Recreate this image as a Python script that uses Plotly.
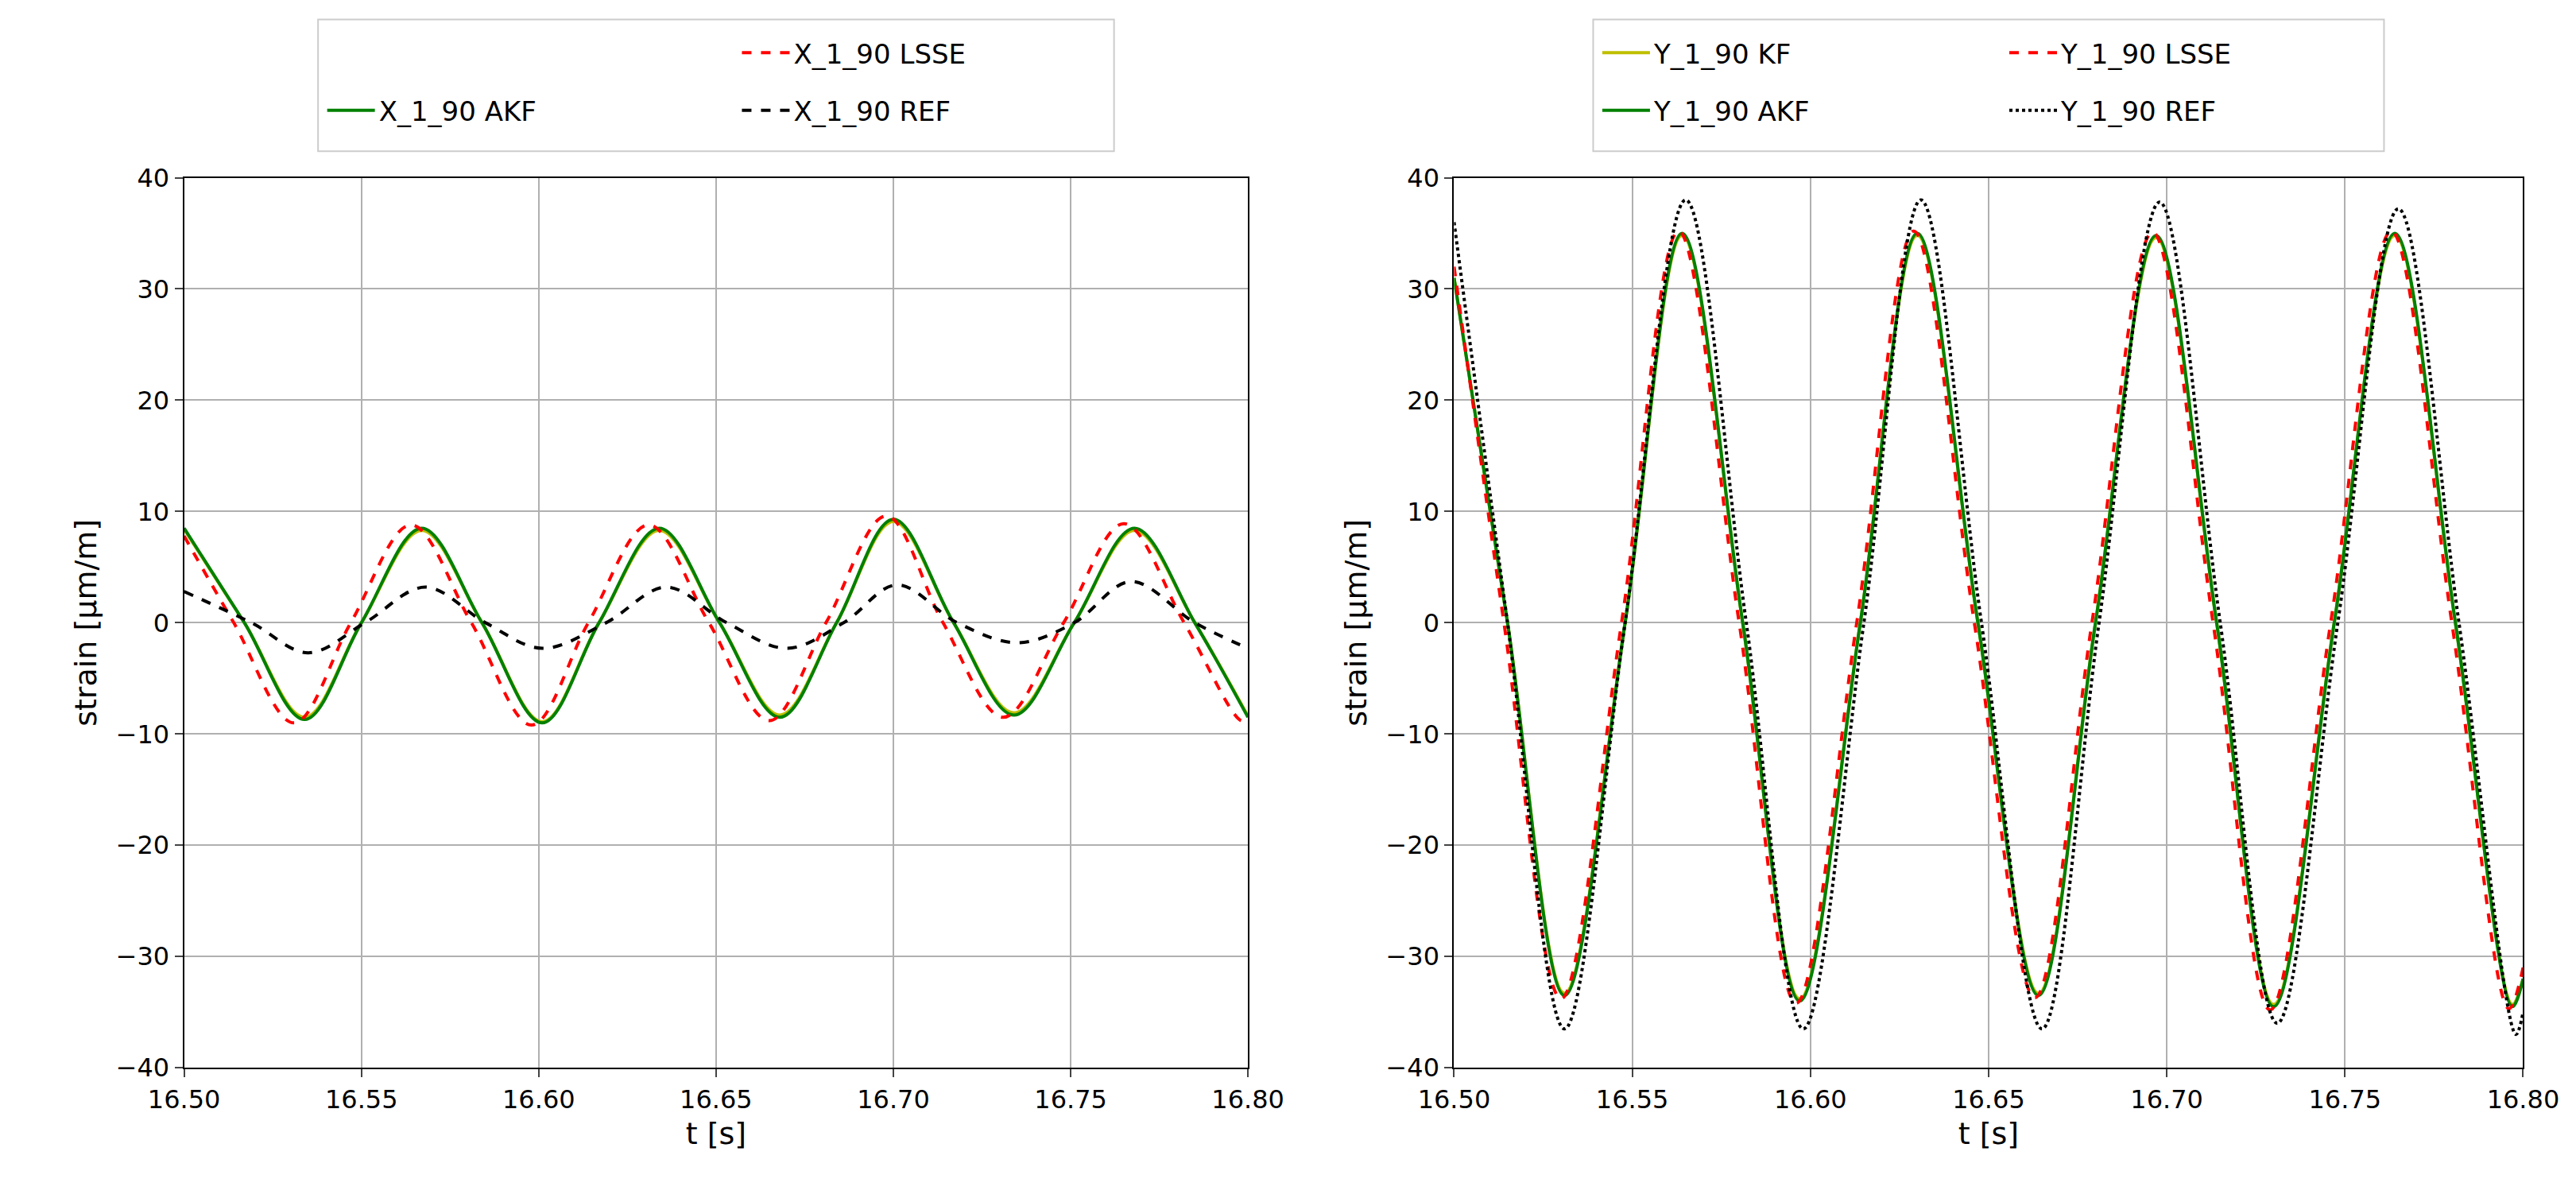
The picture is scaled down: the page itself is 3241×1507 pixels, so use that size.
import plotly.graph_objects as go

# left panel: X_1_90 (times [s], strain [um/m]); extrema and zero crossings
x_akf_t = [16.500, 16.517, 16.534, 16.550, 16.567, 16.584, 16.601, 16.617, 16.634, 16.651,
           16.668, 16.684, 16.700, 16.717, 16.734, 16.751, 16.768, 16.785, 16.800]
x_akf = [8.5, 0, -8.7, 0, 8.5, 0, -9.0, 0, 8.5, 0, -8.5, 0, 9.3, 0, -8.3, 0, 8.5, 0, -8.5]
x_kf = [8.4, 0, -8.5, 0, 8.3, 0, -8.9, 0, 8.3, 0, -8.3, 0, 9.1, 0, -8.1, 0, 8.3, 0, -8.4]

x_lsse_t = [16.500, 16.514, 16.531, 16.547, 16.564, 16.581, 16.598, 16.614, 16.631, 16.648,
            16.665, 16.681, 16.698, 16.714, 16.731, 16.748, 16.765, 16.782, 16.798, 16.800]
x_lsse = [7.8, 0, -9.0, 0, 8.8, 0, -9.2, 0, 8.8, 0, -8.8, 0, 9.6, 0, -8.5, 0, 8.9, 0, -8.8, -8.7]

x_ref_t = [16.500, 16.519, 16.535, 16.551, 16.568, 16.585, 16.601, 16.619, 16.636, 16.653,
           16.670, 16.686, 16.701, 16.718, 16.735, 16.751, 16.767, 16.785, 16.800]
x_ref = [2.8, 0, -2.7, 0, 3.2, 0, -2.3, 0, 3.2, 0, -2.3, 0, 3.4, 0, -1.8, 0, 3.7, 0, -2.3]

# right panel: Y_1_90
y_akf_t = [16.500, 16.515, 16.531, 16.548, 16.564, 16.581, 16.597, 16.614, 16.630, 16.647,
           16.664, 16.680, 16.697, 16.714, 16.730, 16.747, 16.764, 16.781, 16.797, 16.800]
y_akf = [31, 0, -33.5, 0, 35, 0, -34, 0, 35, 0, -33.5, 0, 34.8, 0, -34.5, 0, 35, 0, -34.5, -32]
y_kf = [31, 0, -33.3, 0, 34.8, 0, -33.8, 0, 34.8, 0, -33.3, 0, 34.6, 0, -34.3, 0, 34.8, 0, -34.3, -32]

y_lsse_t = [16.500, 16.514, 16.530, 16.547, 16.563, 16.580, 16.596, 16.613, 16.629, 16.646,
            16.663, 16.679, 16.696, 16.713, 16.729, 16.746, 16.763, 16.780, 16.796, 16.800]
y_lsse = [32, 0, -33.8, 0, 35.2, 0, -34.2, 0, 35.2, 0, -33.7, 0, 35.1, 0, -34.8, 0, 35.2, 0, -34.7, -31]

y_ref_t = [16.500, 16.515, 16.531, 16.548, 16.565, 16.582, 16.598, 16.615, 16.631, 16.648,
           16.665, 16.681, 16.698, 16.715, 16.731, 16.748, 16.765, 16.782, 16.798, 16.800]
y_ref = [36, 0, -36.5, 0, 38, 0, -36.5, 0, 38, 0, -36.5, 0, 37.8, 0, -36, 0, 37.2, 0, -37, -35]

FONT = "DejaVu Sans"
LW = 4

fig = go.Figure()
legends = {}


def add(t, v, name, color, dash, xa, ya, lx, ly):
    key = "legend" if not legends else f"legend{len(legends) + 1}"
    legends[key] = dict(x=lx, y=ly, xanchor="left", yanchor="middle",
                        bgcolor="rgba(0,0,0,0)", font=dict(size=34),
                        itemwidth=60)
    fig.add_trace(go.Scatter(
        x=t, y=v, name=name, mode="lines",
        line=dict(color=color, width=LW, dash=dash, shape="spline", smoothing=1.0),
        xaxis=xa, yaxis=ya, legend=key,
    ))


row1, row2 = 0.961, 0.913
add(x_akf_t, x_kf, "X_1_90 KF", "#bfbf00", "solid", "x", "y", 0.123, row1)
add(x_akf_t, x_akf, "X_1_90 AKF", "green", "solid", "x", "y", 0.123, row2)
add(x_lsse_t, x_lsse, "X_1_90 LSSE", "red", "dash", "x", "y", 0.284, row1)
add(x_ref_t, x_ref, "X_1_90 REF", "black", "dash", "x", "y", 0.284, row2)

add(y_akf_t, y_kf, "Y_1_90 KF", "#bfbf00", "solid", "x2", "y2", 0.618, row1)
add(y_akf_t, y_akf, "Y_1_90 AKF", "green", "solid", "x2", "y2", 0.618, row2)
add(y_lsse_t, y_lsse, "Y_1_90 LSSE", "red", "dash", "x2", "y2", 0.776, row1)
add(y_ref_t, y_ref, "Y_1_90 REF", "black", "dot", "x2", "y2", 0.776, row2)

xax = dict(range=[16.5, 16.8], dtick=0.05, tickformat=".2f", showgrid=True,
           gridcolor="#b0b0b0", gridwidth=2, showline=True, linecolor="black",
           linewidth=2, mirror=True, ticks="outside", ticklen=10, tickwidth=2,
           zeroline=False, title=dict(text="t [s]", standoff=12),
           tickfont=dict(size=32))
yax = dict(range=[-40, 40], dtick=10, showgrid=True, gridcolor="#b0b0b0",
           gridwidth=2, showline=True, linecolor="black", linewidth=2,
           mirror=True, ticks="outside", ticklen=10, tickwidth=2, zeroline=False,
           title=dict(text="strain [µm/m]", standoff=12), tickfont=dict(size=32))

# legend frames
shapes = [
    dict(type="rect", xref="paper", yref="paper", x0=0.121, x1=0.430, y0=0.879, y1=0.989,
         line=dict(color="#cccccc", width=2), layer="below"),
    dict(type="rect", xref="paper", yref="paper", x0=0.616, x1=0.923, y0=0.879, y1=0.989,
         line=dict(color="#cccccc", width=2), layer="below"),
]

fig.update_layout(
    width=3241, height=1507,
    margin=dict(l=0, r=0, t=0, b=0, autoexpand=False),
    paper_bgcolor="white", plot_bgcolor="white",
    font=dict(family=FONT, size=32, color="black"),
    xaxis=dict(xax, domain=[0.069, 0.482], anchor="y"),
    yaxis=dict(yax, domain=[0.114, 0.857], anchor="x"),
    xaxis2=dict(xax, domain=[0.562, 0.977], anchor="y2"),
    yaxis2=dict(yax, domain=[0.114, 0.857], anchor="x2"),
    shapes=shapes,
    **legends,
)

fig.write_html("out.html")
